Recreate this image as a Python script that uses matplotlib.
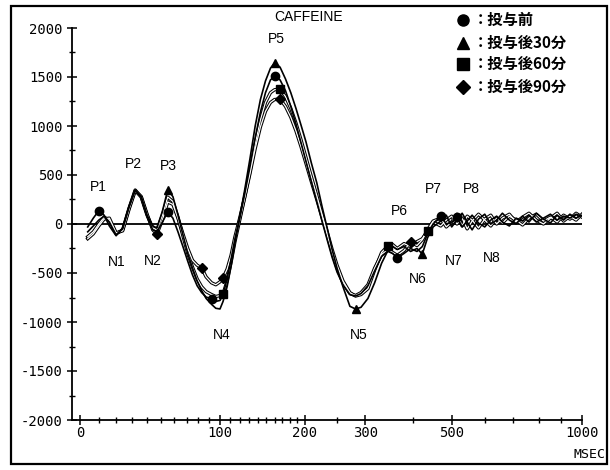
import numpy as np
import matplotlib
matplotlib.use("Agg")
import matplotlib.pyplot as plt
from matplotlib.lines import Line2D
from matplotlib.patches import Rectangle

# ---------------- data ----------------
t_ms = [4, 7, 10, 13, 16, 20, 24, 28, 32, 36,
        40, 44, 47, 51, 55, 59, 63, 67, 71, 75,
        79, 83, 87, 92, 96, 100, 103, 107, 111, 115,
        120, 125, 131, 137, 143, 149, 155, 160, 167, 174,
        181, 188, 195, 202, 210, 218, 226, 234, 242, 250,
        260, 272, 282, 292, 305, 318, 332, 345, 355, 365,
        380, 395, 410, 423, 436, 450, 470, 485, 500, 515,
        530, 545, 560, 580, 600, 620, 640, 660, 685, 710,
        735, 760, 790, 820, 850, 880, 910, 940, 970, 1000]

pre = [-30, 60, 136, 90, -20, -120, -40, 180, 347, 270,
       80, -60, -80, 20, 122, 60, -80, -230, -380, -520,
       -630, -700, -745, -765, -790, -780, -720, -560, -360, -150,
       60, 290, 580, 880, 1140, 1340, 1470, 1510, 1470, 1360,
       1200, 1020, 830, 640, 430, 230, 30, -160, -340, -490,
       -620, -720, -735, -710, -630, -480, -330, -280, -300, -347,
       -300, -250, -280, -230, -100, 0, 82, 0, 20, 70,
       -30, 30, 90, 10, -30, 40, 80, 20, -20, 60,
       30, 90, 20, 60, 100, 40, 80, 60, 100, 80]

post30 = [-80, -20, 40, 80, 20, -110, -50, 170, 347, 280,
          90, -20, -40, 130, 347, 280, 90, -110, -300, -450,
          -580, -680, -760, -820, -860, -867, -790, -640, -430, -200,
          70, 330, 660, 1000, 1270, 1460, 1590, 1643, 1600, 1480,
          1340, 1180, 1010, 840, 620, 420, 180, -40, -260, -450,
          -640, -840, -867, -850, -760, -600, -400, -270, -230, -260,
          -230, -280, -250, -306, -140, -30, 30, 90, -30, 40,
          110, 20, -60, 50, 100, 0, 40, 110, 40, 0,
          80, 20, 110, 50, 10, 90, 40, 100, 60, 90]

post60 = [-130, -80, 0, 70, 40, -100, -60, 160, 347, 275,
          90, -40, -60, 90, 275, 230, 70, -120, -300, -440,
          -560, -640, -690, -720, -740, -730, -714, -580, -390, -180,
          40, 260, 530, 820, 1060, 1240, 1340, 1370, 1377, 1300,
          1180, 1030, 860, 680, 480, 290, 100, -80, -260, -420,
          -580, -700, -735, -720, -660, -470, -290, -224, -210, -250,
          -200, -230, -180, -150, -71, 20, -20, 40, 80, 0,
          60, -50, 30, 100, 40, -20, 60, 10, 80, 40,
          -10, 60, 100, 30, 70, 20, 90, 50, 110, 70]

post90 = [-150, -100, -20, 50, 60, -90, -70, 150, 340, 280,
          100, -60, -100, 40, 225, 200, 60, -100, -250, -370,
          -420, -449, -540, -600, -620, -590, -551, -460, -320, -130,
          60, 260, 510, 770, 990, 1150, 1240, 1270, 1275, 1200,
          1090, 950, 790, 620, 430, 250, 70, -110, -290, -450,
          -600, -710, -730, -700, -620, -450, -310, -260, -290, -320,
          -270, -184, -220, -160, -60, 30, 60, -30, 20, 100,
          -20, 80, 40, -40, 50, 90, 0, 60, 100, 20,
          70, 110, 40, 0, 60, 110, 30, 80, 40, 100]

# times (ms) at which each series carries its marker
pre_marks = [10, 55, 92, 160, 365, 470, 515]
post30_marks = [55, 160, 282, 423]
post60_marks = [103, 167, 345, 436]
post90_marks = [47, 83, 103, 167, 395]

series_labels = ["：投与前", "：投与後30分", "：投与後60分", "：投与後90分"]
series_markers = ["o", "^", "s", "D"]

x_major = [0, 100, 200, 300, 500, 1000]
x_minor = [10, 20, 30, 40, 50, 60, 70, 80, 90,
           110, 120, 130, 140, 150, 160, 170, 180, 190,
           250, 400, 600, 700, 800, 900]
y_major = [-2000, -1500, -1000, -500, 0, 500, 1000, 1500, 2000]
y_minor = [-1750, -1250, -750, -250, 250, 750, 1250, 1750]

peak_labels = ["P1", "P2", "P3", "P5", "P6", "P7", "P8",
               "N1", "N2", "N4", "N5", "N6", "N7", "N8"]
peak_x = [10, 30.6, 55.3, 162, 369, 451, 558,
          20.6, 44.2, 102, 287, 411, 505, 622]
peak_y = [377, 612, 592, 1887, 133, 357, 357,
          -388, -378, -1132, -1132, -561, -377, -347]

# ---------------- figure ----------------
W, H = 610, 470
fig = plt.figure(figsize=(W / 100, H / 100), dpi=100)
fig.patch.set_facecolor("white")

ax = fig.add_axes([72 / W, 1 - 420 / H, (582 - 72) / W, (420 - 28) / H])

C0 = 111.0
def fwd(x):
    x = np.asarray(x, dtype=float)
    return np.log(np.maximum(x + C0, 1e-6) / C0)
def inv(y):
    return C0 * (np.exp(np.asarray(y, dtype=float)) - 1)

ax.set_xscale("function", functions=(fwd, inv))
ax.set_xlim(-4, 1000)
ax.set_ylim(-2000, 2000)

t_arr = np.array(t_ms)
def mark_idx(times):
    return [int(np.where(t_arr == tt)[0][0]) for tt in times]

all_series = [pre, post30, post60, post90]
all_marks = [pre_marks, post30_marks, post60_marks, post90_marks]
for s in all_series:
    assert len(s) == len(t_ms)

# hollow-looking curves first
for vals in (post60, post90):
    ax.plot(t_ms, vals, color="black", lw=2.4, solid_joinstyle="round", zorder=2)
    ax.plot(t_ms, vals, color="white", lw=0.9, solid_joinstyle="round", zorder=2.1)
for vals in (pre, post30):
    ax.plot(t_ms, vals, color="black", lw=1.2, solid_joinstyle="round", zorder=3)
for vals, mk, marks in zip(all_series, series_markers, all_marks):
    ax.plot(t_ms, vals, linestyle="none", marker=mk, markevery=mark_idx(marks),
            color="black", ms=6 if mk != "D" else 5, zorder=4)

ax.axhline(0, color="black", lw=1.3, zorder=1)

for s in ["top", "right"]:
    ax.spines[s].set_visible(False)
for s in ["left", "bottom"]:
    ax.spines[s].set_linewidth(1.3)

ax.set_xticks(x_major)
ax.set_xticks(x_minor, minor=True)
ax.set_xticklabels([str(v) for v in x_major])
ax.set_yticks(y_major)
ax.set_yticks(y_minor, minor=True)
ax.set_yticklabels([str(v) for v in y_major])
ax.tick_params(axis="both", which="major", direction="inout", length=7, width=1.1,
               labelsize=10, pad=3)
ax.tick_params(axis="x", which="major", pad=1)
ax.tick_params(axis="both", which="minor", direction="inout", length=5, width=1.0)
for lab in ax.get_xticklabels() + ax.get_yticklabels():
    lab.set_fontfamily("DejaVu Sans Mono")

fig.text(589 / W, 1 - 455 / H, "MSEC", fontsize=9.5, family="DejaVu Sans Mono",
         ha="center", va="center")

for lab, x, y in zip(peak_labels, peak_x, peak_y):
    ax.text(x, y, lab, fontsize=10, family="Liberation Sans", ha="center", va="center")

fig.text(309 / W, 1 - 17 / H, "CAFFEINE", fontsize=10, family="Liberation Sans",
         ha="center", va="center")

# legend (drawn manually)
rows_y = [20, 43, 64, 87]
for lab, mk, ry in zip(series_labels, series_markers, rows_y):
    fig.add_artist(Line2D([463 / W], [1 - ry / H], marker=mk, color="black",
                          ms=8 if mk != "D" else 7, linestyle="none",
                          transform=fig.transFigure))
    fig.text(473 / W, 1 - ry / H, lab, fontsize=11, fontweight="bold",
             family=["Noto Sans CJK JP", "DejaVu Sans"], ha="left", va="center")

# scan frame
fig.add_artist(Rectangle((11 / W, 1 - 464 / H), (607 - 11) / W, (464 - 6) / H,
                         transform=fig.transFigure, fill=False, lw=1.6,
                         edgecolor="black"))

fig.savefig("out.png", dpi=100)
